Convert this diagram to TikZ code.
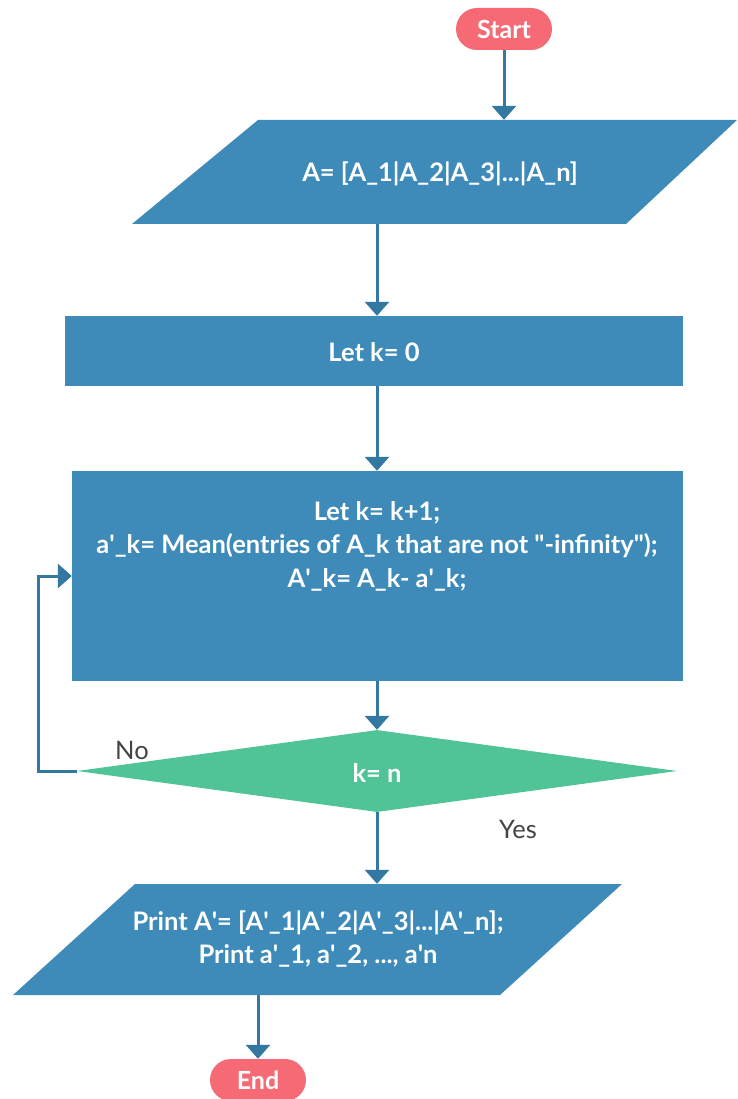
\documentclass[tikz,border=0pt]{standalone}
\usepackage{fontspec}
\setmainfont{Lato}
\usetikzlibrary{shapes.geometric,arrows.meta,calc}
\definecolor{boxblue}{RGB}{62,139,185}
\definecolor{linkblue}{RGB}{50,120,160}
\definecolor{termred}{RGB}{245,106,116}
\definecolor{decgreen}{RGB}{80,196,151}
\definecolor{labelgray}{RGB}{68,68,68}
\newcommand\apos{\textquotesingle}
\begin{document}
\begin{tikzpicture}[x=1pt,y=-1pt,
  arr/.style={draw=linkblue, line width=3pt, -{Triangle[width=24pt,length=14pt]}},
  term/.style={rounded corners=21pt, fill=termred, text=white, minimum width=96pt, minimum height=42pt, inner sep=0pt, font=\fontsize{25}{28}\selectfont\bfseries},
  procbox/.style={fill=boxblue, draw=none, inner sep=0pt},
  boxtext/.style={text=white, align=center, font=\fontsize{25.5}{33.5}\selectfont\bfseries, inner sep=0pt},
  ghost/.style={draw=none, inner sep=0pt},
  lbl/.style={text=labelgray, font=\fontsize{25.5}{28}\selectfont, inner sep=0pt}
]
\useasboundingbox (0,0) rectangle (737,1099);
% Start
\node[term] (start) at (504,29) {Start};
% input parallelogram
\fill[boxblue] (258,120) -- (737,120) -- (626,224) -- (132,224) -- cycle;
\node[ghost, minimum width=605pt, minimum height=104pt] (inp) at (434.5,172) {};
\node[boxtext] (inpt) at (440,174) {A= [A\_1|A\_2|A\_3|...|A\_n]};
% Let k = 0
\node[procbox, minimum width=618pt, minimum height=70pt] (init) at (374,351) {};
\node[boxtext] (initt) at (374,352) {Let k= 0};
% loop body
\node[procbox, minimum width=611pt, minimum height=210pt] (body) at (377.5,576) {};
\node[boxtext] (bodyt) at (377,546) {Let k= k+1;\\ a\apos\_k= Mean(entries of A\_k that are not \textquotedbl-infinity\textquotedbl);\\ A\apos\_k= A\_k- a\apos\_k;};
% decision
\node[diamond, fill=decgreen, minimum width=600pt, minimum height=82pt, inner sep=0pt] (dec) at (377,771) {};
\node[boxtext] (dect) at (377,773) {k= n};
% output parallelogram
\fill[boxblue] (135,884) -- (622,884) -- (500,995) -- (13,995) -- cycle;
\node[ghost, minimum width=609pt, minimum height=111pt] (out) at (317.5,939.5) {};
\node[boxtext] (outt) at (318,939) {Print A\apos= [A\apos\_1|A\apos\_2|A\apos\_3|...|A\apos\_n];\\ Print a\apos\_1, a\apos\_2, ..., a\apos n};
% End
\node[term] (end) at (258,1080) {End};
% connectors
\draw[arr] (start.south) -- (start.south |- inp.north);
\draw[arr] (inp.south -| dec.north) -- (init.north -| dec.north);
\draw[arr] (init.south -| dec.north) -- (body.north -| dec.north);
\draw[arr] (body.south -| dec.north) -- (dec.north);
\draw[arr] (dec.west) -- ++(-38,0) |- (body.west);
\draw[arr] (dec.south) -- (out.north -| dec.south);
\draw[arr] (out.south -| end.north) -- (end.north);
% labels
\node[lbl] (no) at (132,750) {No};
\node[lbl] (yes) at (518,829) {Yes};
\end{tikzpicture}
\end{document}
